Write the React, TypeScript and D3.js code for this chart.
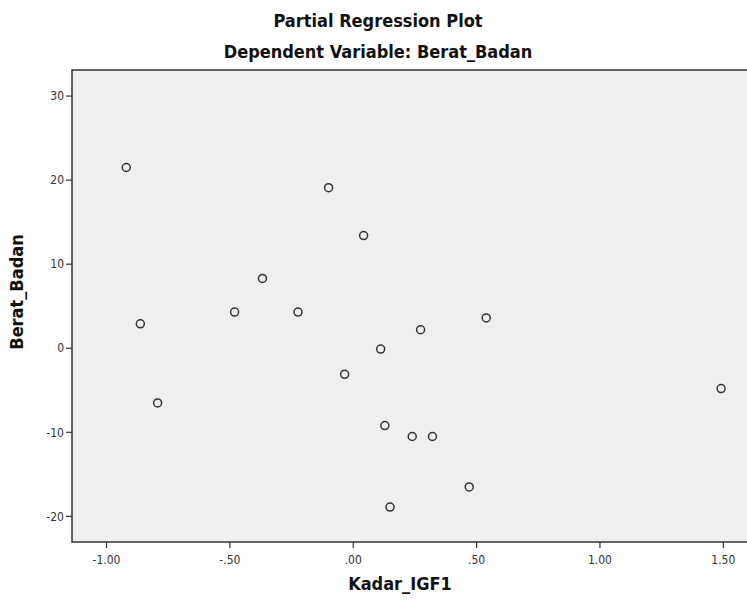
import * as React from "react";
import * as d3 from "d3";

// partial residuals
const kadarIGF1 = [-0.92, -0.1, 0.042, -0.368, -0.481, -0.224, -0.863, 0.539, 0.273, 0.111, -0.035, -0.793, 1.491, 0.128, 0.239, 0.321, 0.47, 0.149];
const beratBadan = [21.5, 19.1, 13.4, 8.3, 4.3, 4.3, 2.9, 3.6, 2.2, -0.1, -3.1, -6.5, -4.8, -9.2, -10.5, -10.5, -16.5, -18.9];

const xTicks = [-1, -0.5, 0, 0.5, 1, 1.5];
const yTicks = [-20, -10, 0, 10, 20, 30];

const title = "Partial Regression Plot";
const subtitle = "Dependent Variable: Berat_Badan";
const xTitle = "Kadar_IGF1";
const yTitle = "Berat_Badan";

const locale = d3.formatLocale({ decimal: ".", thousands: ",", grouping: [3], currency: ["", ""], minus: "-" });
const fmtX = (v: number) => locale.format(".2f")(v).replace(/^(-?)0\./, "$1.");

export default function App() {
  const width = 747;
  const height = 600;
  const left = 72;
  const top = 70;
  const bottom = 542;

  const x = d3.scaleLinear().domain([-1.14, 1.6]).range([left, 748]);
  const y = d3.scaleLinear().domain([-23.05, 33.1]).range([bottom, top]);

  const titleFont = "'DejaVu Sans Condensed', sans-serif";
  const tickFont = "'DejaVu Sans Condensed', 'DejaVu Sans', sans-serif";

  return (
    <svg width={width} height={height} style={{ position: "absolute", left: 0, top: 0, background: "#fff" }}>
      <text x={378} y={27} textAnchor="middle" fontFamily={titleFont} fontWeight="bold" fontSize={18} fill="#111">
        {title}
      </text>
      <text x={378} y={58} textAnchor="middle" fontFamily={titleFont} fontWeight="bold" fontSize={18} fill="#111">
        {subtitle}
      </text>

      <rect x={left} y={top} width={748 - left} height={bottom - top} fill="#efefef" stroke="#333" strokeWidth={1.5} />

      {yTicks.map(t => (
        <g key={t}>
          <line x1={left - 6} x2={left} y1={y(t)} y2={y(t)} stroke="#333" strokeWidth={1.2} />
          <text x={left - 8} y={y(t)} dy="0.35em" textAnchor="end" fontFamily={tickFont} fontSize={12} fill="#333">
            {t}
          </text>
        </g>
      ))}

      {xTicks.map(t => (
        <g key={t}>
          <line x1={x(t)} x2={x(t)} y1={bottom} y2={bottom + 6} stroke="#333" strokeWidth={1.2} />
          <text x={x(t)} y={bottom + 22} textAnchor="middle" fontFamily={tickFont} fontSize={12} fill="#333">
            {fmtX(t)}
          </text>
        </g>
      ))}

      {kadarIGF1.map((v, i) => (
        <circle key={i} cx={x(v)} cy={y(beratBadan[i])} r={4} fill="none" stroke="#333" strokeWidth={1.5} />
      ))}

      <text x={400} y={590} textAnchor="middle" fontFamily={titleFont} fontWeight="bold" fontSize={18} fill="#111">
        {xTitle}
      </text>
      <text
        transform={`translate(23, 292) rotate(-90)`}
        textAnchor="middle"
        fontFamily={titleFont}
        fontWeight="bold"
        fontSize={18}
        fill="#111"
      >
        {yTitle}
      </text>
    </svg>
  );
}
